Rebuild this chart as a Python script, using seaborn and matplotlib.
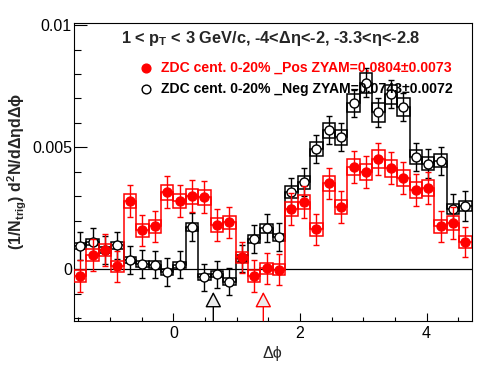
import numpy as np
import pandas as pd
import matplotlib
matplotlib.use("Agg")
import matplotlib.pyplot as plt
import seaborn as sns
from matplotlib.ticker import MultipleLocator, FixedLocator, FixedFormatter

# ---------------- data ----------------
n_bins = 32
dphi_lo, dphi_hi = -np.pi / 2, 3 * np.pi / 2

pos_y = [-0.00027, 0.00059, 0.00079, 0.00012, 0.00281, 0.00160, 0.00177, 0.00316,
         0.00281, 0.00299, 0.00295, 0.00182, 0.00193, 0.00049, -0.00027, 0.00005,
         -0.00001, 0.00247, 0.00275, 0.00164, 0.00352, 0.00254, 0.00419, 0.00399,
         0.00452, 0.00414, 0.00373, 0.00326, 0.00333, 0.00177, 0.00190, 0.00112]
pos_err = [0.00065, 0.00064, 0.00064, 0.00064, 0.00065, 0.00064, 0.00064, 0.00065,
           0.00065, 0.00065, 0.00065, 0.00064, 0.00064, 0.00064, 0.00064, 0.00064,
           0.00064, 0.00065, 0.00065, 0.00064, 0.00065, 0.00065, 0.00065, 0.00065,
           0.00066, 0.00065, 0.00065, 0.00065, 0.00065, 0.00064, 0.00064, 0.00063]
pos_sys = [0.00023, 0.00024, 0.00024, 0.00023, 0.00029, 0.00026, 0.00027, 0.00030,
           0.00029, 0.00030, 0.00030, 0.00027, 0.00027, 0.00024, 0.00023, 0.00023,
           0.00023, 0.00029, 0.00029, 0.00027, 0.00032, 0.00029, 0.00034, 0.00034,
           0.00037, 0.00035, 0.00033, 0.00032, 0.00032, 0.00027, 0.00028, 0.00026]

neg_y = [0.00095, 0.00111, 0.00079, 0.00098, 0.00038, 0.00022, 0.00020, -0.00011,
         0.00019, 0.00173, -0.00032, -0.00020, -0.00050, 0.00045, 0.00124, 0.00168,
         0.00131, 0.00316, 0.00357, 0.00493, 0.00570, 0.00541, 0.00680, 0.00765,
         0.00643, 0.00717, 0.00665, 0.00460, 0.00433, 0.00445, 0.00247, 0.00259]
neg_err = [0.00057, 0.00057, 0.00057, 0.00057, 0.00056, 0.00056, 0.00056, 0.00056,
           0.00056, 0.00057, 0.00056, 0.00056, 0.00056, 0.00056, 0.00057, 0.00057,
           0.00057, 0.00058, 0.00058, 0.00058, 0.00058, 0.00058, 0.00055, 0.00058,
           0.00058, 0.00058, 0.00058, 0.00058, 0.00058, 0.00058, 0.00060, 0.00060]
neg_sys = [0.00013, 0.00013, 0.00013, 0.00013, 0.00013, 0.00013, 0.00013, 0.00013,
           0.00013, 0.00015, 0.00013, 0.00013, 0.00013, 0.00013, 0.00015, 0.00017,
           0.00015, 0.00025, 0.00027, 0.00030, 0.00030, 0.00030, 0.00037, 0.00041,
           0.00040, 0.00038, 0.00038, 0.00028, 0.00027, 0.00027, 0.00020, 0.00020]

zyam_min_x = {"neg": 0.63, "pos": 1.42}

title = "1 < $\\mathbf{p}_{\\mathbf{T}}$ < 3 GeV/c, -4<Δη<-2, -3.3<η<-2.8"
pos_label = "ZDC cent. 0-20% _Pos ZYAM=0.0804±0.0073"
neg_label = "ZDC cent. 0-20% _Neg ZYAM=0.0743±0.0072"
xlabel = "Δϕ"
ylabel = r"$\mathbf{(1/N_{trig})\ d^{2}N/d}$" + "Δη" + r"$\mathbf{d}$" + "Δϕ"

y_ticks = [0, 0.005, 0.01]
y_ticklabels = ["0", "0.005", "0.01"]
x_ticks = [0, 2, 4]
x_ticklabels = ["0", "2", "4"]

# ---------------- build table ----------------
edges = np.linspace(dphi_lo, dphi_hi, n_bins + 1)
centers = 0.5 * (edges[:-1] + edges[1:])
bw = edges[1] - edges[0]
df = pd.concat([
    pd.DataFrame({"dphi": centers, "y": pos_y, "err": pos_err, "sys": pos_sys, "set": "pos"}),
    pd.DataFrame({"dphi": centers, "y": neg_y, "err": neg_err, "sys": neg_sys, "set": "neg"}),
])

# ---------------- style ----------------
sns.set_theme(style="ticks")
plt.rcParams["font.family"] = ["Liberation Sans", "DejaVu Sans"]
plt.rcParams["mathtext.fontset"] = "custom"
plt.rcParams["mathtext.rm"] = "Liberation Sans"
plt.rcParams["mathtext.bf"] = "Liberation Sans:bold"
plt.rcParams["mathtext.it"] = "Liberation Sans:italic"

fig = plt.figure(figsize=(4.96, 3.74), dpi=100)
fig.patch.set_facecolor("white")
L, R, T, B = 74 / 496, 471.7 / 496, 1 - 22.7 / 374, 1 - 320.7 / 374
ax = fig.add_axes([L, B, R - L, T - B])
ax.set_facecolor("white")

RED = "#ff0000"
BLK = "#000000"

ax.axhline(0, color=BLK, lw=0.9, zorder=1.5)

styles = {
    "neg": dict(color=BLK, z=2, face="white"),
    "pos": dict(color=RED, z=5, face=RED),
}
for key in ["neg", "pos"]:
    d = df[df["set"] == key]
    st = styles[key]
    ax.stairs(d["y"].to_numpy(), edges, baseline=None, color=st["color"],
              linewidth=1.1, zorder=st["z"])
    ax.bar(d["dphi"], 2 * d["sys"], bottom=d["y"] - d["sys"], width=bw,
           fill=False, edgecolor=st["color"], linewidth=1.1, zorder=st["z"])
    ax.errorbar(d["dphi"], d["y"], yerr=d["err"], fmt="none", ecolor=st["color"],
                elinewidth=1.0, capsize=2.3, capthick=1.0, zorder=st["z"] + 0.5)
    sns.scatterplot(data=d, x="dphi", y="y", ax=ax, marker="o", s=42,
                    facecolor=st["face"], edgecolor=st["color"], linewidth=1.0,
                    zorder=st["z"] + 1, legend=False)

# ZYAM arrows
for key, col in [("neg", BLK), ("pos", RED)]:
    ax.annotate("", xy=(zyam_min_x[key], -0.00092), xytext=(zyam_min_x[key], -0.0021),
                arrowprops=dict(arrowstyle="-|>,head_length=0.8,head_width=0.42",
                                fc="#ececec", ec=col, lw=1.0, shrinkA=0, shrinkB=0),
                zorder=8)

ax.set_xlim(dphi_lo, dphi_hi)
ax.set_ylim(-0.0021, 0.0101)

ax.yaxis.set_major_locator(FixedLocator(y_ticks))
ax.yaxis.set_major_formatter(FixedFormatter(y_ticklabels))
ax.yaxis.set_minor_locator(MultipleLocator(0.001))
ax.xaxis.set_major_locator(FixedLocator(x_ticks))
ax.xaxis.set_major_formatter(FixedFormatter(x_ticklabels))
ax.xaxis.set_minor_locator(MultipleLocator(0.5))

ax.tick_params(axis="both", which="both", direction="in", top=False, right=False,
               color=BLK, width=0.8, labelsize=11.5, labelcolor=BLK)
ax.tick_params(axis="y", which="major", length=9.0, pad=1.5)
ax.tick_params(axis="y", which="minor", length=5.0)
ax.tick_params(axis="x", which="major", length=5.8, pad=3.5)
ax.tick_params(axis="x", which="minor", length=2.9)
for s in ax.spines.values():
    s.set_color(BLK)
    s.set_linewidth(0.8)

ax.set_xlabel(xlabel, fontsize=11.5, labelpad=4)
ax.set_ylabel(ylabel, fontsize=11.5, fontweight="bold")
ax.yaxis.set_label_coords(-0.113, 0.5)

# title + legend
ax.text(0.117, 0.931, title, transform=ax.transAxes, fontsize=11.8,
        fontweight="bold", ha="left", va="baseline", zorder=10)
ax.plot([0.181], [0.848], transform=ax.transAxes, marker="o", ms=6.3,
        mfc=RED, mec=RED, ls="none", zorder=10, clip_on=False)
ax.plot([0.181], [0.777], transform=ax.transAxes, marker="o", ms=6.3,
        mfc="none", mec=BLK, mew=1.0, ls="none", zorder=10, clip_on=False)
ax.text(0.219, 0.834, pos_label, transform=ax.transAxes, fontsize=10.1,
        fontweight="bold", color=RED, ha="left", va="baseline", zorder=10)
ax.text(0.219, 0.764, neg_label, transform=ax.transAxes, fontsize=10.1,
        fontweight="bold", color=BLK, ha="left", va="baseline", zorder=10)

fig.savefig("out.png", dpi=100, facecolor="white")
